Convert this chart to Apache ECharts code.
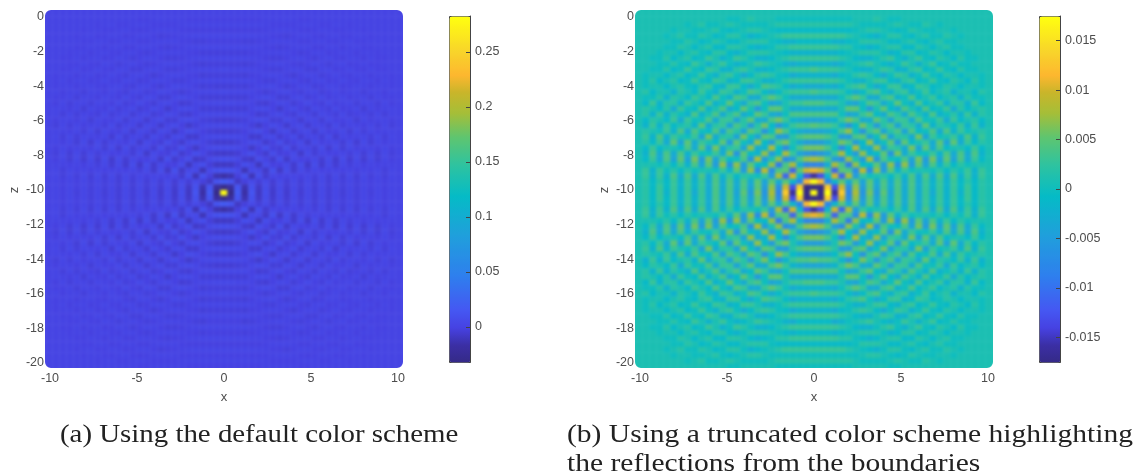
<!DOCTYPE html>
<html><head><meta charset="utf-8">
<style>
html,body{margin:0;padding:0;background:#fff;width:1135px;height:476px;overflow:hidden}
#heat,#top{position:absolute;left:0;top:0;width:1135px;height:476px}
#heat{filter:blur(1.7px)}
</style>
<script src="https://cdn.jsdelivr.net/npm/echarts@6/dist/echarts.min.js"></script>
</head><body>
<div id="heat"></div><div id="top"></div>
<script>
// Field in thousandths. Each row: from x=0 outward to the right edge; top row first.
var halfRows = [
[1,1,1,1,1,1,1,1,1,1,1,1,1,1,1,1,1,1,1,1,1,1,1,1,1,1,1],
[1,1,1,1,1,1,1,1,1,1,1,1,1,1,1,1,1,1,1,1,1,1,1,1,1,1,1],
[0,0,0,0,0,0,1,1,1,2,1,0,0,1,1,1,1,1,1,1,1,1,1,1,1,1,1],
[2,2,2,2,2,2,1,0,0,0,0,1,2,1,0,0,2,1,0,1,1,1,1,1,1,1,1],
[-1,-1,-1,-1,-1,-1,0,1,2,2,1,0,-1,0,2,1,0,0,1,1,0,1,1,1,1,1,1],
[3,3,3,3,3,2,1,0,-1,-2,0,2,2,0,-1,1,2,0,0,2,1,0,1,1,1,1,1],
[-1,-1,-1,-2,-2,-1,0,2,2,2,1,-1,-1,1,2,0,-1,1,2,0,0,1,1,1,1,1,1],
[3,3,3,3,2,2,0,-1,-2,-1,1,2,2,-1,-1,2,1,-1,1,2,0,0,1,1,1,1,1],
[-2,-2,-2,-2,-1,0,1,2,2,2,0,-2,-1,2,2,-1,0,2,1,-1,1,1,0,1,1,1,1],
[3,3,3,3,2,1,-1,-2,-2,0,2,3,0,-2,1,3,0,-1,2,1,-1,2,0,0,1,1,1],
[-2,-2,-2,-3,-2,0,1,2,3,1,-1,-2,0,3,1,-2,1,3,-1,0,2,0,0,1,1,1,1],
[4,3,3,3,2,1,-1,-2,-2,1,3,2,-2,-2,2,3,-1,0,3,0,-1,2,0,0,1,1,1],
[-2,-2,-2,-3,-1,0,2,3,2,-1,-3,0,3,2,-2,0,3,0,-1,2,1,-1,1,1,0,1,1],
[3,3,3,3,2,0,-2,-2,1,3,3,-1,-2,2,3,-1,0,3,0,-1,2,1,-1,2,0,1,1],
[-3,-3,-2,-3,-1,2,3,4,0,-3,-1,3,3,-2,-1,3,2,-1,0,2,1,-1,1,1,0,1,1],
[4,3,3,3,2,-1,-3,-1,3,4,0,-2,2,3,-2,0,3,-1,1,2,-2,1,1,-1,2,1,1],
[-3,-3,-3,-3,0,3,5,3,-3,-3,3,4,-2,0,4,-1,1,3,-1,1,2,-2,2,0,0,1,1],
[4,4,3,3,1,-3,-4,0,4,3,-3,0,5,0,-2,4,-1,1,3,-2,2,2,-2,3,-1,1,1],
[-3,-3,-3,-3,1,5,5,0,-5,1,5,-1,-3,4,1,-2,4,-1,0,3,-3,2,-1,1,2,1,1],
[4,4,4,4,0,-4,-3,3,5,-1,-3,4,2,-3,4,1,-2,4,-2,0,2,-2,3,-2,2,1,1],
[-4,-4,-3,-2,3,6,4,-3,-3,5,2,-4,3,3,-3,4,0,0,3,-3,3,-1,1,2,-1,1,1],
[5,4,4,3,-2,-6,-1,6,2,-5,2,4,-4,3,2,-3,5,-2,2,1,-1,3,-2,3,-2,1,1],
[-4,-4,-3,-1,4,7,0,-6,3,5,-4,2,4,-4,4,-1,0,4,-3,4,-2,3,0,1,2,1,1],
[5,5,4,2,-5,-5,4,5,-4,0,6,-4,2,2,-3,6,-4,3,0,1,3,-2,4,-2,3,1,1],
[-5,-5,-3,1,6,4,-5,-1,7,-3,0,5,-5,5,-1,1,3,-3,5,-4,5,-3,3,-1,2,1,1],
[6,6,4,0,-7,-1,8,-2,-3,7,-4,3,2,-3,6,-4,5,-3,4,-1,1,1,-1,3,-1,1,1],
[-7,-6,-4,3,8,-1,-5,7,-2,-1,5,-6,6,-3,3,0,0,3,-2,4,-3,4,-3,4,-2,1,1],
[8,7,4,-5,-7,7,1,-5,8,-6,4,0,-1,4,-4,6,-5,6,-4,5,-4,4,-3,3,-1,1,1],
[-8,-8,-3,8,4,-9,7,-1,-1,5,-5,7,-6,7,-5,5,-4,4,-2,3,-1,2,0,1,1,1,1],
[11,10,5,-11,5,4,-7,9,-7,7,-5,5,-2,3,0,1,1,0,2,-1,2,0,3,-2,3,1,1],
[-16,-13,-2,10,-11,8,-5,3,0,1,2,-1,3,-2,4,-3,4,-3,4,-3,4,-2,3,-2,3,1,1],
[18,12,-8,-2,5,-3,5,-4,5,-3,4,-3,4,-3,4,-3,3,-2,3,-2,3,-1,2,-1,2,1,1],
[-30,-20,13,-13,10,-7,7,-5,5,-4,4,-3,4,-3,4,-3,3,-2,3,-2,3,-1,3,-1,2,1,1],
[280,-30,18,-16,13,-8,8,-6,6,-5,5,-4,4,-3,4,-3,3,-3,3,-2,3,-2,3,-1,2,1,1],
[-30,-20,13,-13,10,-7,7,-5,5,-4,4,-3,4,-3,4,-3,3,-2,3,-2,3,-1,3,-1,2,1,1],
[18,12,-8,-2,5,-3,5,-4,5,-3,4,-3,4,-3,4,-3,3,-2,3,-2,3,-1,2,-1,2,1,1],
[-16,-13,-2,10,-11,8,-5,3,0,1,2,-1,3,-2,4,-3,4,-3,4,-3,4,-2,3,-2,3,1,1],
[11,10,5,-11,5,4,-7,9,-7,7,-5,5,-2,3,0,1,1,0,2,-1,2,0,3,-2,3,1,1],
[-8,-8,-3,8,4,-9,7,-1,-1,5,-5,7,-6,7,-5,5,-4,4,-2,3,-1,2,0,1,1,1,1],
[8,7,4,-5,-7,7,1,-5,8,-6,4,0,-1,4,-4,6,-5,6,-4,5,-4,4,-3,3,-1,1,1],
[-7,-6,-4,3,8,-1,-5,7,-2,-1,5,-6,6,-3,3,0,0,3,-2,4,-3,4,-3,4,-2,1,1],
[6,6,4,0,-7,-1,8,-2,-3,7,-4,3,2,-3,6,-4,5,-3,4,-1,1,1,-1,3,-1,1,1],
[-5,-5,-3,1,6,4,-5,-1,7,-3,0,5,-5,5,-1,1,3,-3,5,-4,5,-3,3,-1,2,1,1],
[5,5,4,2,-5,-5,4,5,-4,0,6,-4,2,2,-3,6,-4,3,0,1,3,-2,4,-2,3,1,1],
[-4,-4,-3,-1,4,7,0,-6,3,5,-4,2,4,-4,4,-1,0,4,-3,4,-2,3,0,1,2,1,1],
[5,4,4,3,-2,-6,-1,6,2,-5,2,4,-4,3,2,-3,5,-2,2,1,-1,3,-2,3,-2,1,1],
[-4,-4,-3,-2,3,6,4,-3,-3,5,2,-4,3,3,-3,4,0,0,3,-3,3,-1,1,2,-1,1,1],
[4,4,4,4,0,-4,-3,3,5,-1,-3,4,2,-3,4,1,-2,4,-2,0,2,-2,3,-2,2,1,1],
[-3,-3,-3,-3,1,5,5,0,-5,1,5,-1,-3,4,1,-2,4,-1,0,3,-3,2,-1,1,2,1,1],
[4,4,3,3,1,-3,-4,0,4,3,-3,0,5,0,-2,4,-1,1,3,-2,2,2,-2,3,-1,1,1],
[-2,-2,-2,-3,0,3,5,3,-3,-3,3,4,-2,0,4,-1,1,3,-1,1,2,-2,2,0,0,1,1],
[4,3,3,3,2,-1,-3,-1,3,4,0,-2,2,3,-2,0,3,-1,1,2,-2,1,1,-1,2,1,1],
[-2,-2,-2,-3,-1,2,3,4,0,-3,-1,3,3,-2,-1,3,2,-1,0,2,1,-1,1,1,0,1,1],
[3,3,3,3,2,0,-2,-2,1,3,3,-1,-2,2,3,-1,0,3,0,-1,2,1,-1,2,0,1,1],
[-2,-2,-2,-3,-1,0,2,3,2,-1,-3,0,3,2,-2,0,3,0,-1,2,1,-1,1,1,0,1,1],
[3,3,3,3,2,1,-1,-2,-2,1,3,2,-2,-2,2,3,-1,0,3,0,-1,2,0,0,1,1,1],
[-1,-1,-1,-3,-2,0,1,2,3,1,-1,-2,0,3,1,-2,1,3,-1,0,2,0,0,1,1,1,1],
[3,3,3,3,2,1,-1,-2,-2,0,2,3,0,-2,1,3,0,-1,2,1,-1,2,0,0,1,1,1],
[-1,-1,-1,-2,-1,0,1,2,2,2,0,-2,-1,2,2,-1,0,2,1,-1,1,1,0,1,1,1,1],
[3,3,3,3,2,2,0,-1,-2,-1,1,2,2,-1,-1,2,1,-1,1,2,0,0,1,1,1,1,1],
[-1,-1,-1,-1,-1,-1,0,2,2,2,1,-1,-1,1,2,0,-1,1,2,0,0,1,1,1,1,1,1],
[3,3,3,3,3,2,1,0,-1,-2,0,2,2,0,-1,1,2,0,0,2,1,0,1,1,1,1,1],
[0,0,0,0,0,0,0,1,2,2,1,0,-1,0,2,1,0,0,1,1,0,1,1,1,1,1,1],
[2,2,2,2,2,2,1,0,0,0,0,1,2,1,0,0,2,1,0,1,1,1,1,1,1,1,1],
[0,0,0,0,0,0,1,1,1,1,1,0,0,1,1,1,1,1,1,1,1,1,1,1,1,1,1],
[1,1,1,1,1,1,1,1,1,1,1,1,1,1,1,1,1,1,1,1,1,1,1,1,1,1,1]
];
var barTicksA = [0,0.05,0.1,0.15,0.2,0.25];
var barTicksB = [-0.015,-0.01,-0.005,0,0.005,0.01,0.015];
var rangeA = [-0.0318,0.2827];
var rangeB = [-0.0175,0.0175];
var captionA = '(a) Using the default color scheme';
var captionB1 = '(b) Using a truncated color scheme highlighting';
var captionB2 = 'the reflections from the boundaries';
var palette = [];
var stops = [[0,'#352A87'],[.05,'#3B2FA5'],[.10,'#4642E2'],[.15,'#4557F2'],[.25,'#2E7FEE'],[.37,'#1FA0DB'],[.48,'#05BBC6'],[.57,'#2EC3A0'],[.65,'#5EC570'],[.72,'#A5BE38'],[.78,'#C9B52A'],[.83,'#FDB72F'],[.90,'#F8D52A'],[1,'#FFFF0F']];
function hex(c){return [parseInt(c.substr(1,2),16),parseInt(c.substr(3,2),16),parseInt(c.substr(5,2),16)];}
for(var p=0;p<=100;p++){var t=p/100,s=0;while(s<stops.length-2&&t>stops[s+1][0])s++;
 var a=hex(stops[s][1]),b=hex(stops[s+1][1]),f=(t-stops[s][0])/(stops[s+1][0]-stops[s][0]);
 palette.push('rgb('+[0,1,2].map(function(i){return Math.round(a[i]+(b[i]-a[i])*f);}).join(',')+')');}

var cols = 53, rows = halfRows.length;
var xCats = [], zCats = [], i, j;
for(j=0;j<cols;j++) xCats.push(String(j));
for(i=0;i<rows;i++) zCats.push(String(i));
var dataA = [], dataB = [];
halfRows.forEach(function(r,iy){
  var full = r.slice(1).reverse().concat(r);
  full.forEach(function(v,ix){
    var val = v/1000;
    dataA.push([ix,iy,val]);
    dataB.push([ix,iy,Math.max(rangeB[0],Math.min(rangeB[1],val))]);
  });
});
var font = '"Liberation Sans",Arial,sans-serif';
var heat = echarts.init(document.getElementById('heat'));
function heatAxis(cats,g,inv){return {type:'category',data:cats,gridIndex:g,show:false,inverse:!!inv};}
heat.setOption({
  animation:false,backgroundColor:'#fff',
  grid:[{left:38.5,top:5.4,width:371,height:369.6},{left:628.5,top:5.4,width:371,height:369.6}],
  xAxis:[heatAxis(xCats,0),heatAxis(xCats,1)],
  yAxis:[heatAxis(zCats,0,true),heatAxis(zCats,1,true)],
  visualMap:[
    {show:false,seriesIndex:0,min:rangeA[0],max:rangeA[1],inRange:{color:palette}},
    {show:false,seriesIndex:1,min:rangeB[0],max:rangeB[1],inRange:{color:palette}}],
  series:[
    {type:'heatmap',xAxisIndex:0,yAxisIndex:0,data:dataA,silent:true,progressive:0,emphasis:{disabled:true}},
    {type:'heatmap',xAxisIndex:1,yAxisIndex:1,data:dataB,silent:true,progressive:0,emphasis:{disabled:true}}]
});

var top1 = echarts.init(document.getElementById('top'));
var txt = {color:'#4d4d4d',fontFamily:font,fontSize:12.5};
function xA(g,name){return {type:'value',gridIndex:g,min:-10,max:10,interval:5,name:name,nameLocation:'middle',nameGap:28,
  nameTextStyle:{color:'#4d4d4d',fontFamily:font,fontSize:13},axisLine:{show:false},axisTick:{show:false},splitLine:{show:false},axisLabel:Object.assign({margin:9},txt),z:3};}
function yA(g,name){return {type:'value',gridIndex:g,min:-20,max:0,interval:2,name:name,nameLocation:'middle',nameGap:29,
  nameTextStyle:{color:'#4d4d4d',fontFamily:font,fontSize:13},axisLine:{show:false},axisTick:{show:false},splitLine:{show:false},axisLabel:Object.assign({margin:6},txt),z:3};}
function barY(g,range,ticks){return {type:'value',gridIndex:g,position:'right',min:range[0],max:range[1],z:5,
  axisLine:{show:true,onZero:false,lineStyle:{color:'#444',width:1}},
  axisTick:{show:true,inside:true,length:4,customValues:ticks,lineStyle:{color:'#444'}},
  splitLine:{show:false},
  axisLabel:Object.assign({margin:5,customValues:ticks,showMinLabel:true,showMaxLabel:true,formatter:function(v){return String(+v.toFixed(3));}},txt)};}
function barX(g){return {type:'value',gridIndex:g,show:false,min:0,max:1};}
function vm(left,range){return {left:left,top:16,itemWidth:21,itemHeight:346,padding:0,min:range[0],max:range[1],seriesIndex:[],
  calculable:false,hoverLink:false,inRange:{color:palette},borderColor:'#444',borderWidth:1,textStyle:{color:'transparent'},text:null};}
function mask(x){return {type:'rect',z:1,silent:true,shape:{x:x-6,y:4,width:370,height:370,r:12},style:{fill:'transparent',stroke:'#fff',lineWidth:12}};}
function maskOuter(x){return {type:'rect',z:1,silent:true,shape:{x:x-14,y:-4,width:386,height:386},style:{fill:'transparent',stroke:'#fff',lineWidth:20}};}
function cap(x,y,s,sx){return {type:'text',z:6,x:x,y:y,scaleX:sx,silent:true,style:{text:s,fill:'#222',font:'26px "Liberation Serif",serif'}};}
top1.setOption({
  animation:false,backgroundColor:'transparent',
  grid:[{left:50,top:17,width:348,height:346},{left:640,top:17,width:348,height:346},
        {left:449,top:16,width:21,height:346},{left:1039,top:16,width:21,height:346}],
  xAxis:[xA(0,'x'),xA(1,'x'),barX(2),barX(3)],
  yAxis:[yA(0,'z'),yA(1,'z'),barY(2,rangeA,barTicksA),barY(3,rangeB,barTicksB)],
  visualMap:[vm(449,rangeA),vm(1039,rangeB)],
  graphic:[maskOuter(45),maskOuter(635),mask(45),mask(635),cap(60,422,captionA,1.11),cap(567,422,captionB1,1.136),cap(567,451,captionB2,1.136)]
});
</script>
</body></html>
